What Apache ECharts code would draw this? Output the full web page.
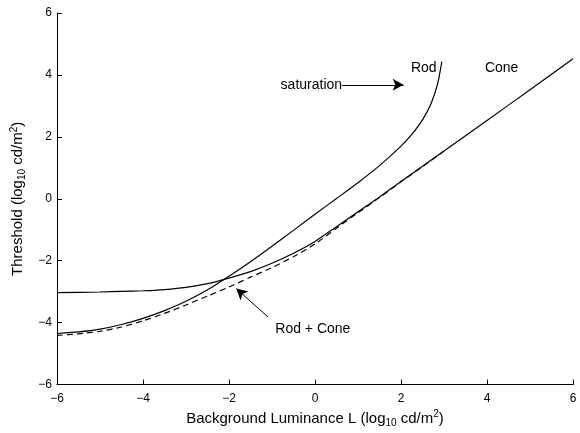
<!DOCTYPE html>
<html>
<head>
<meta charset="utf-8">
<script src="https://cdn.jsdelivr.net/npm/echarts@6/dist/echarts.min.js"></script>
<style>
  html, body { margin: 0; padding: 0; background: #fff; }
  #chart { width: 580px; height: 433px; }
</style>
</head>
<body>
<div id="chart"></div>
<script>
// values
var rodX = [-6, -5.5, -5, -4.5, -4, -3.5, -3, -2.5, -2, -1.5, -1, -0.5, 0, 0.5, 1, 1.5, 2, 2.25, 2.5, 2.7, 2.85, 2.95];
var rodY = [-4.35, -4.30, -4.21, -4.06, -3.86, -3.61, -3.31, -2.94, -2.50, -2.03, -1.53, -1.02, -0.50, 0.01, 0.52, 1.07, 1.70, 2.08, 2.55, 3.08, 3.70, 4.43];

var coneX = [-6, -5, -4.5, -4, -3.5, -3, -2.5, -2, -1.5, -1, -0.5, 0, 0.5, 1, 1.5, 2, 3, 4, 5, 6];
var coneY = [-3.03, -3.01, -2.99, -2.97, -2.93, -2.86, -2.74, -2.56, -2.35, -2.08, -1.76, -1.38, -0.90, -0.42, 0.06, 0.56, 1.54, 2.53, 3.52, 4.52];

var bothX = [-6, -5.5, -5, -4.5, -4, -3.5, -3, -2.5, -2, -1.5, -1, -0.5, 0, 0.5, 1, 1.5, 2, 2.5, 3];
var bothY = [-4.41, -4.36, -4.28, -4.14, -3.94, -3.70, -3.43, -3.14, -2.85, -2.53, -2.22, -1.87, -1.46, -0.95, -0.45, 0.04, 0.55, 1.04, 1.54];

// text notes and arrows, in data units
var notes = [
  { text: 'Rod', x: 2.53, y: 4.22, align: 'center' },
  { text: 'Cone', x: 4.34, y: 4.22, align: 'center' },
  { text: 'saturation', x: 0.63, y: 3.68, align: 'right' },
  { text: 'Rod + Cone', x: -0.05, y: -4.22, align: 'center' }
];
var arrows = [
  { from: [0.63, 3.68], to: [2.06, 3.68] },
  { from: [-1.09, -3.82], to: [-1.83, -2.90] }
];

function pairs(xs, ys) {
  var out = [];
  for (var i = 0; i < xs.length; i++) out.push([xs[i], ys[i]]);
  return out;
}

function tickText(v) {
  return v < 0 ? '\u2212' + (-v) : String(v);
}

var font = 'Liberation Sans, Arial, Helvetica, sans-serif';
var rich = {
  sub: { fontSize: 10, fontFamily: font, color: '#000', padding: [9, 0, 0, 0] },
  sup: { fontSize: 10, fontFamily: font, color: '#000', padding: [0, 0, 8, 0] }
};

function axisCommon() {
  return {
    type: 'value',
    min: -6,
    max: 6,
    interval: 2,
    axisLine: { show: true, onZero: false, lineStyle: { color: '#000', width: 1 } },
    axisTick: { show: true, inside: true, length: 5, lineStyle: { color: '#000' } },
    axisLabel: { formatter: tickText, color: '#000', fontSize: 12, fontFamily: font },
    splitLine: { show: false },
    nameLocation: 'middle',
    nameTextStyle: { color: '#000', fontSize: 15, fontFamily: font, rich: rich }
  };
}

var xAxis = axisCommon();
xAxis.name = 'Background Luminance L (log{sub|10} cd/m{sup|2})';
xAxis.nameGap = 13;
xAxis.axisLabel.margin = 8;

var yAxis = axisCommon();
yAxis.name = 'Threshold (log{sub|10} cd/m{sup|2})';
yAxis.nameGap = 17;
yAxis.axisLabel.margin = 5;

var lineBase = { type: 'line', showSymbol: false, smooth: 0.2, silent: true, animation: false };

var chart = echarts.init(document.getElementById('chart'));
chart.setOption({
  animation: false,
  grid: { left: 57, right: 7, top: 13, bottom: 37 },
  xAxis: xAxis,
  yAxis: yAxis,
  series: [
    Object.assign({}, lineBase, {
      name: 'Rod',
      data: pairs(rodX, rodY),
      lineStyle: { color: '#000', width: 1.2 }
    }),
    Object.assign({}, lineBase, {
      name: 'Cone',
      data: pairs(coneX, coneY),
      lineStyle: { color: '#000', width: 1.2 }
    }),
    Object.assign({}, lineBase, {
      name: 'Rod + Cone',
      data: pairs(bothX, bothY),
      lineStyle: { color: '#000', width: 1.2, type: [6, 4] },
      markLine: {
        silent: true,
        symbol: ['none', 'arrow'],
        symbolSize: [9, 11],
        label: { show: false },
        lineStyle: { color: '#000', width: 1, type: 'solid' },
        data: arrows.map(function (a) {
          return [{ coord: a.from }, { coord: a.to }];
        })
      }
    })
  ]
});

chart.setOption({
  graphic: notes.map(function (n) {
    var p = chart.convertToPixel({ gridIndex: 0 }, [n.x, n.y]);
    return {
      type: 'text',
      x: p[0],
      y: p[1],
      style: {
        text: n.text,
        fill: '#000',
        font: '14px ' + font,
        align: n.align,
        verticalAlign: 'middle'
      }
    };
  })
});
</script>
</body>
</html>
